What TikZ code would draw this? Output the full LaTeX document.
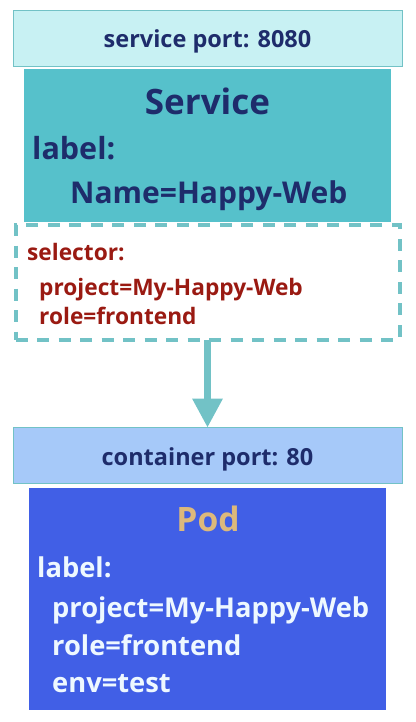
\documentclass[tikz,border=0pt]{standalone}
\usepackage{fontspec}
\setmainfont{Open Sans}
\usetikzlibrary{arrows.meta}
\definecolor{portcyan}{HTML}{C8F1F3}
\definecolor{svccyan}{HTML}{56C1CB}
\definecolor{navy}{HTML}{1E2C6B}
\definecolor{selred}{HTML}{9A1A12}
\definecolor{dashcyan}{HTML}{72C2C6}
\definecolor{portblue}{HTML}{A6C9F9}
\definecolor{podblue}{HTML}{415FE6}
\definecolor{podtan}{HTML}{DDB97B}
\definecolor{podtext}{HTML}{EEF8FF}

\begin{document}
\begin{tikzpicture}[x=1pt,y=-1pt,
    box/.style={inner sep=0pt,outer sep=0pt},
    port box/.style={box,draw=dashcyan,line width=0.8pt,fill=#1,minimum width=389pt,minimum height=56pt},
    title/.style={anchor=base,inner sep=0pt,font=\bfseries\fontsize{#1}{#1}\selectfont},
    lines/.style={anchor=base west,inner sep=0pt,font=\bfseries\fontsize{#1}{#1}\selectfont}]
    \useasboundingbox (0,0) rectangle (415,722);

    % boxes
    \node[port box=portcyan] (sport) at (207.5,38.5) {};
    \node[box,fill=svccyan,minimum width=367pt,minimum height=153pt] (service) at (207.5,145.5) {};
    \node[box,draw=dashcyan,line width=4pt,dash pattern=on 12pt off 9.5pt,minimum width=384pt,minimum height=114.5pt] (selector) at (207.5,282.3) {};
    \node[port box=portblue] (cport) at (207.5,455.5) {};
    \node[box,fill=podblue,minimum width=357pt,minimum height=222pt] (pod) at (207.5,599) {};

    % texts
    \node[title=23.5,text=navy] (sporttext) at (207.5,47.5) {service port: 8080};
    \node[title=35,text=navy] (servicetitle) at (207.5,115) {Service};
    \node[lines=30.5,text=navy] (servicelabel) at (32,160) {label:};
    \node[lines=30,text=navy] (servicename) at (70,203) {Name=Happy-Web};
    \node[lines=22.7,text=selred] (seltext) at (27,260.5) {selector:};
    \node[lines=22.7,text=selred] (selproject) at (39,295) {project=My-Happy-Web};
    \node[lines=22.7,text=selred] (selrole) at (39,324) {role=frontend};
    \node[title=23.5,text=navy] (cporttext) at (207.5,465) {container port: 80};
    \node[title=33.6,text=podtan] (podtitle) at (208,531) {Pod};
    \node[lines=27.3,text=podtext] (podlabel) at (37,577) {label:};
    \node[lines=27.3,text=podtext] (podproject) at (52,617) {project=My-Happy-Web};
    \node[lines=27.3,text=podtext] (podrole) at (52,655) {role=frontend};
    \node[lines=27.3,text=podtext] (podenv) at (52,692) {env=test};

    \draw[dashcyan,line width=6.5pt,-{Triangle[width=29pt,length=29pt]}] (selector.south) -- (cport.north);
\end{tikzpicture}
\end{document}
